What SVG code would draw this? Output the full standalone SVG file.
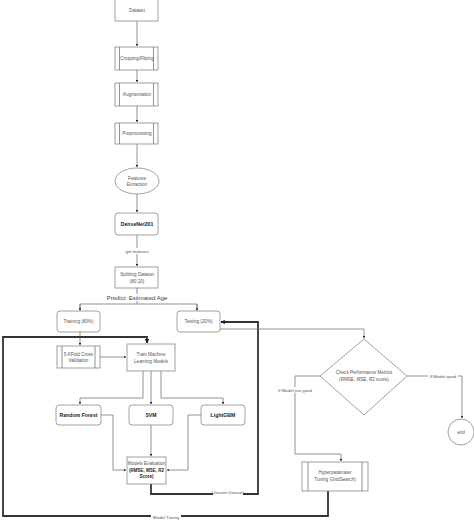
<svg xmlns="http://www.w3.org/2000/svg" width="474" height="520" viewBox="0 0 474 520">
<defs>
<style>
.box{fill:#fff;stroke:#888;stroke-width:0.8}
.t{font-family:"Liberation Sans",Arial,sans-serif;font-size:4.6px;fill:#555;text-anchor:middle}
.b{font-family:"Liberation Sans",Arial,sans-serif;font-size:5.2px;font-weight:bold;fill:#222;text-anchor:middle}
.ln{fill:none;stroke:#777;stroke-width:0.8}
.thick{fill:none;stroke:#333;stroke-width:1.8}
.lbl{font-family:"Liberation Sans",Arial,sans-serif;font-size:4.4px;fill:#555;text-anchor:middle}
</style>
<marker id="a" viewBox="0 0 10 10" refX="9" refY="5" markerWidth="3" markerHeight="3" orient="auto"><path d="M0,0L10,5L0,10z" fill="#222"/></marker>
<marker id="ab" viewBox="0 0 10 10" refX="9" refY="5" markerWidth="2.4" markerHeight="2.4" orient="auto"><path d="M0,0L10,5L0,10z" fill="#222"/></marker>
</defs>
<rect width="474" height="520" fill="#fff"/>
<g id="connectors">
<path class="ln" d="M137,21V46" marker-end="url(#a)"/>
<path class="ln" d="M137,70V82" marker-end="url(#a)"/>
<path class="ln" d="M137,106V122" marker-end="url(#a)"/>
<path class="ln" d="M137,144V167" marker-end="url(#a)"/>
<path class="ln" d="M137,194V212" marker-end="url(#a)"/>
<path class="ln" d="M137,235V266" marker-end="url(#a)"/>
<rect x="118" y="248" width="38" height="6" fill="#fff"/>
<text class="lbl" x="137" y="253">get features</text>
<path class="ln" d="M137,288V304"/>
<path class="ln" d="M80,310V304H197V310" />
<path class="ln" d="M80,304V310.5" marker-end="url(#a)"/>
<path class="ln" d="M197,304V310.5" marker-end="url(#a)"/>
<rect x="104" y="294" width="66" height="7" fill="#fff"/>
<text x="137" y="299.5" font-family="Liberation Sans,Arial,sans-serif" font-size="6px" fill="#444" text-anchor="middle">Predict: Estimated Age</text>
<path class="ln" d="M80,332V345" marker-end="url(#a)"/>
<path class="ln" d="M100,357H126" marker-end="url(#a)"/>
<path class="ln" d="M143,371V398H80V404" marker-end="url(#a)"/>
<path class="ln" d="M151,371V404" marker-end="url(#a)"/>
<path class="ln" d="M161,371V398H223V404" marker-end="url(#a)"/>
<path class="ln" d="M101,415H113V470H126" marker-end="url(#a)"/>
<path class="ln" d="M151,425V456" marker-end="url(#a)"/>
<path class="ln" d="M201,415H188V470H167" marker-end="url(#a)"/>
<path class="thick" d="M151,484V494H258V322H221" marker-end="url(#ab)"/>
<rect x="213" y="490" width="30" height="5" fill="#fff"/>
<text class="lbl" x="228" y="494">Unseen Dataset</text>
<path class="ln" d="M220,329H364V338" marker-end="url(#a)"/>
<path class="ln" d="M320,376H295V454H341V461" marker-end="url(#a)"/>
<rect x="275" y="387" width="40" height="5.5" fill="#fff"/>
<text class="lbl" x="295" y="391.5">If Model not good</text>
<path class="ln" d="M407,376H462V418" marker-end="url(#a)"/>
<rect x="428" y="373" width="30" height="5.5" fill="#fff"/>
<text class="lbl" x="443" y="377.5">If Model good</text>
<path class="thick" d="M328,491V516H3V337H147V343" marker-end="url(#ab)"/>
<rect x="151" y="514" width="30" height="6" fill="#fff"/>
<text class="lbl" x="166" y="519">Model Tuning</text>
</g>
<g id="dataset"><rect class="box" x="115" y="-5" width="43" height="26"/><text class="t" x="137" y="11.5">Dataset</text></g>
<g id="cropping"><rect class="box" x="115" y="47" width="43" height="23"/><path class="ln" d="M119.5,47V70M153.5,47V70"/><text class="t" x="137" y="60">Cropping/Fliping</text></g>
<g id="augmentation"><rect class="box" x="115" y="83" width="43" height="23"/><path class="ln" d="M119.5,83V106M153.5,83V106"/><text class="t" x="137" y="96">Augmentation</text></g>
<g id="preprocessing"><rect class="box" x="115" y="123" width="43" height="21"/><path class="ln" d="M119.5,123V144M153.5,123V144"/><text class="t" x="137" y="135">Preprocessing</text></g>
<g id="features"><ellipse class="box" cx="137" cy="181" rx="22" ry="13"/><text class="t" x="137" y="179.5">Features</text><text class="t" x="137" y="186">Extraction</text></g>
<g id="densenet"><rect class="box" x="115" y="213" width="43" height="22" rx="3"/><text class="b" x="137" y="225.8">DenseNet201</text></g>
<g id="splitting"><rect class="box" x="115" y="267" width="43" height="21"/><text class="t" x="137" y="276">Splitting Dataset</text><text class="t" x="137" y="282.5">(80:20)</text></g>
<g id="training"><rect class="box" x="57" y="311" width="43" height="21" rx="3"/><text class="t" x="78.5" y="323.3">Training (80%)</text></g>
<g id="testing"><rect class="box" x="177" y="311" width="43" height="21" rx="3"/><text class="t" x="198.5" y="323.3">Testing (20%)</text></g>
<g id="kfold"><rect class="box" x="57" y="346" width="43" height="22"/><path class="ln" d="M62,346V368M95,346V368"/><text class="t" x="78.5" y="355.5">5-KFold Cross</text><text class="t" x="78.5" y="362">Validation</text></g>
<g id="train"><rect class="box" x="127" y="344" width="48" height="27"/><text class="t" x="151" y="356">Train Machine</text><text class="t" x="151" y="362.5">Learning Models</text></g>
<g id="rf"><rect class="box" x="56" y="405" width="45" height="20" rx="3"/><text class="b" x="78.5" y="416.8">Random Forest</text></g>
<g id="svm"><rect class="box" x="129" y="405" width="44" height="20" rx="3"/><text class="b" x="151" y="416.8">SVM</text></g>
<g id="lgbm"><rect class="box" x="201" y="405" width="44" height="20" rx="3"/><text class="b" x="223" y="416.8">LightGBM</text></g>
<g id="evaluation"><rect class="box" x="127" y="457" width="39" height="27"/><text class="t" x="146.5" y="465">Models Evaluation</text><text class="b" x="146.5" y="471.5" style="font-size:4.5px">(RMSE, MSE, R2</text><text class="b" x="146.5" y="478" style="font-size:4.5px">Score)</text></g>
<g id="check"><path class="box" d="M364,339L407,376L364,415L320,376Z"/><text class="t" x="364" y="374">Check Performance Metrics</text><text class="t" x="364" y="381">(RMSE, MSE, R2 score)</text></g>
<g id="end"><circle class="box" cx="461" cy="432" r="13"/><text class="t" x="461" y="433.6">end</text></g>
<g id="hyper"><rect class="box" x="302" y="462" width="66" height="29"/><path class="ln" d="M308,462V491M362,462V491"/><text class="t" x="335" y="474">Hyperparamater</text><text class="t" x="335" y="481">Tuning (GridSearch)</text></g>
</svg>
